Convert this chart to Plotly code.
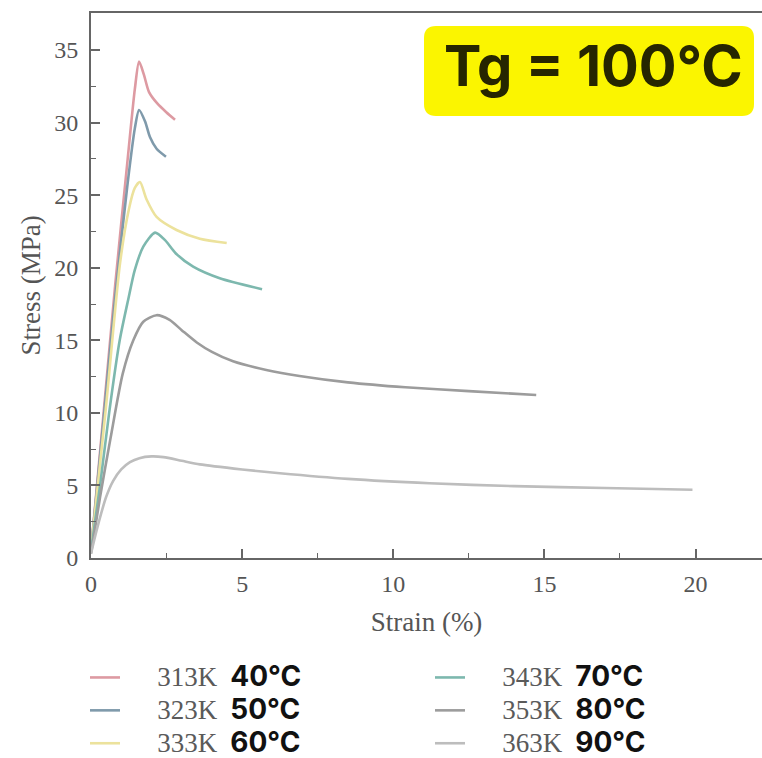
import plotly.graph_objects as go

# ---------------- data ----------------
temps_k = [313, 323, 333, 343, 353, 363]
temps_c = [40, 50, 60, 70, 80, 90]
colors = ["#dd9aa2", "#7f9aab", "#ece29c", "#7db8ae", "#9c9c9c", "#bdbdbd"]

strain_313 = [0, 0.4, 0.8, 1.2, 1.45, 1.59, 1.75, 1.92, 2.2, 2.5, 2.78]
stress_313 = [0.5, 9.6, 18.8, 27.2, 32.3, 34.2, 33.3, 32.1, 31.3, 30.7, 30.2]

strain_323 = [0, 0.4, 0.8, 1.2, 1.45, 1.59, 1.79, 1.95, 2.17, 2.48]
stress_323 = [0.5, 9.2, 18.0, 25.6, 29.6, 30.87, 30.07, 29.0, 28.2, 27.65]

strain_333 = [0, 0.5, 0.96, 1.25, 1.45, 1.62, 1.84, 2.17, 2.83, 3.6, 4.49]
stress_333 = [0.5, 10.5, 20.3, 24.0, 25.5, 25.9, 24.7, 23.5, 22.6, 22.0, 21.7]

strain_343 = [0, 0.3, 0.6, 0.95, 1.23, 1.45, 1.73, 2.12, 2.45, 2.8, 3.38, 4.26, 5.66]
stress_343 = [0.5, 5.0, 10.0, 15.0, 17.8, 19.85, 21.45, 22.42, 21.9, 21.0, 20.08, 19.28, 18.52]

strain_353 = [0, 0.3, 0.65, 1.05, 1.4, 1.73, 2.17, 2.6, 3.0, 3.5, 4.0, 4.7, 5.8, 6.9, 8.5, 10.4, 12.5, 14.73]
stress_353 = [0.3, 4.2, 8.3, 12.7, 15.0, 16.28, 16.73, 16.4, 15.7, 14.85, 14.2, 13.55, 12.96, 12.54, 12.1, 11.76, 11.5, 11.23]

strain_363 = [0, 0.15, 0.3, 0.5, 0.73, 1.0, 1.29, 1.6, 2.0, 2.4, 3.0, 3.6, 5.0, 6.25, 8.5, 11.2, 14.0, 17.0, 19.9]
stress_363 = [0.3, 1.6, 2.8, 4.2, 5.3, 6.1, 6.6, 6.88, 7.0, 6.95, 6.7, 6.45, 6.1, 5.84, 5.45, 5.15, 4.95, 4.82, 4.7]

strains = [strain_313, strain_323, strain_333, strain_343, strain_353, strain_363]
stresses = [stress_313, stress_323, stress_333, stress_343, stress_353, stress_363]
legend_ids = ["legend", "legend", "legend", "legend2", "legend2", "legend2"]

x_ticks = [0, 5, 10, 15, 20]
y_ticks = [0, 5, 10, 15, 20, 25, 30, 35]
x_title = "Strain (%)"
y_title = "Stress (MPa)"
badge_text = "Tg = 100°C"

# ---------------- layout geometry ----------------
W, H = 762, 758
ML, MR, MT, MB = 91, 0, 13, 200
PW, PH = W - ML - MR, H - MT - MB


def px2x(px):
    return (px - ML) / PW


def py2y(py):
    return (H - MB - py) / PH


fig = go.Figure()

NB = "\u00a0"
for k, c, col, xs, ys, lg in zip(temps_k, temps_c, colors, strains, stresses, legend_ids):
    name = (f'{NB*5}<span style="font-family:Liberation Serif;color:#5a5a5a;font-size:27px">{k}K</span>'
            f'{NB*2}<b style="font-size:28px">{c}°C</b>')
    fig.add_trace(go.Scatter(
        x=xs, y=ys, mode="lines", name=name, legend=lg,
        line=dict(color=col, width=2.6, shape="spline", smoothing=0.7),
        hoverinfo="skip",
    ))

axis_common = dict(
    showgrid=False, zeroline=False, showline=True, linecolor="#666666", linewidth=2,
    ticks="inside", ticklen=9, tickwidth=1.6, tickcolor="#666666",
    tickfont=dict(family="Liberation Serif", size=24, color="#555555"),
    minor=dict(ticks="inside", ticklen=5, tickwidth=1.4, tickcolor="#666666", dtick=2.5, tick0=0),
)

fig.update_xaxes(
    **axis_common, range=[0, 22.2], tickvals=x_ticks, mirror=True, ticklabelstandoff=3,
    title=dict(text=x_title, font=dict(family="Liberation Serif", size=27, color="#555555"), standoff=16),
)
fig.update_yaxes(
    **axis_common, range=[0, 37.55], tickvals=y_ticks, ticklabelstandoff=6,
    title=dict(text=y_title, font=dict(family="Liberation Serif", size=27, color="#555555"), standoff=6),
)

# yellow badge (rounded rectangle in paper coords)
bx0, bx1, by0, by1, r = 424, 754, 26, 116, 12
x0, x1 = px2x(bx0), px2x(bx1)
yt, yb = py2y(by0), py2y(by1)
rx, ry = r / PW, r / PH
path = (f"M{x0+rx},{yt} L{x1-rx},{yt} Q{x1},{yt} {x1},{yt-ry} "
        f"L{x1},{yb+ry} Q{x1},{yb} {x1-rx},{yb} L{x0+rx},{yb} Q{x0},{yb} {x0},{yb+ry} "
        f"L{x0},{yt-ry} Q{x0},{yt} {x0+rx},{yt} Z")
fig.add_shape(type="path", path=path, xref="paper", yref="paper",
              fillcolor="#fbf500", line=dict(width=0), layer="above")
fig.add_annotation(text=f"<b>{badge_text}</b>", xref="paper", yref="paper",
                   x=px2x(593), y=py2y(66), xanchor="center", yanchor="middle", showarrow=False,
                   font=dict(family="Inter", size=56, color="#262600"))

legend_common = dict(
    orientation="v", xanchor="left", yanchor="top",
    font=dict(family="Inter", size=23, color="#111111"),
    bgcolor="rgba(0,0,0,0)", itemclick=False, tracegroupgap=0,
)

fig.update_layout(
    width=W, height=H,
    margin=dict(l=ML, r=MR, t=MT, b=MB, autoexpand=False),
    paper_bgcolor="white", plot_bgcolor="white",
    showlegend=True,
    legend=dict(**legend_common, x=px2x(85), y=py2y(656)),
    legend2=dict(**legend_common, x=px2x(430), y=py2y(656)),
)

fig.write_html("out.html")
